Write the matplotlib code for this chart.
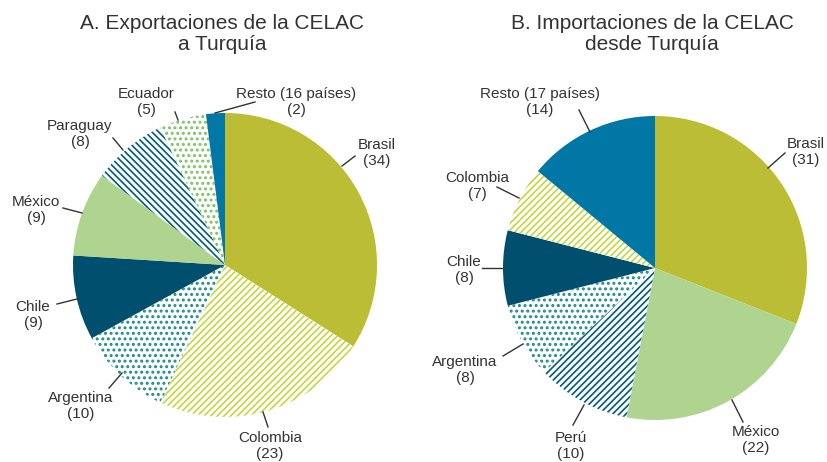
import matplotlib.pyplot as plt

# ============================================================
# DATA
# ============================================================

export_labels = [
    "Brasil", "Colombia", "Argentina", "Chile",
    "México", "Paraguay", "Ecuador", "Resto (16 países)",
]
export_values = [34, 23, 10, 9, 9, 8, 5, 2]

import_labels = [
    "Brasil", "México", "Perú", "Argentina",
    "Chile", "Colombia", "Resto (17 países)",
]
import_values = [31, 22, 10, 8, 8, 7, 14]

export_title = "A. Exportaciones de la CELAC\na Turquía"
import_title = "B. Importaciones de la CELAC\ndesde Turquía"

# ============================================================
# STYLE / LAYOUT (pixel units, image y measured from top)
# ============================================================

W, H = 827, 462
RADIUS = 152
TEXT_COLOR = "#333333"

# colour, hatch, hatch linewidth
STYLE = {
    "Brasil": ("#BBBD34", None, 0),
    "Colombia": ("#C3D73F", "/////", 1.2),
    "Argentina": ("#1B8B8B", "...", 1.4),
    "Chile": ("#004F6E", None, 0),
    "México": ("#AED48F", None, 0),
    "Paraguay": ("#005A7E", "\\\\\\\\\\", 1.2),
    "Perú": ("#005A7E", "/////", 1.2),
    "Ecuador": ("#7CC35E", "...", 1.4),
    "Resto": ("#0077A4", None, 0),
}

# label centre, leader start (pie edge), leader end
EXPORT_LAYOUT = {
    "Brasil": ((377, 153), (342, 166), (355, 156)),
    "Colombia": ((270, 446), (263, 412), (268, 427)),
    "Argentina": ((81, 406), (122, 373), (109, 388)),
    "Chile": ((33, 315), (77, 299), (57, 304)),
    "México": ((36, 210), (82, 213), (63, 208)),
    "Paraguay": ((80, 134), (123, 150), (113, 138)),
    "Ecuador": ((146, 102), (178, 120), (175, 112)),
    "Resto (16 países)": ((296, 102), (215, 113), (255, 102)),
}

IMPORT_LAYOUT = {
    "Brasil": ((806, 152), (768, 168), (785, 153)),
    "México": ((756, 440), (732, 400), (743, 422)),
    "Perú": ((571, 446), (584, 405), (573, 425)),
    "Argentina": ((465, 370), (523, 344), (503, 356)),
    "Chile": ((464, 270), (503, 268), (482, 268)),
    "Colombia": ((477, 186), (519, 198), (497, 187)),
    "Resto (17 países)": ((540, 102), (590, 132), (579, 110)),
}

plt.rcParams["font.family"] = ["Liberation Sans", "DejaVu Sans"]
plt.rcParams["hatch.linewidth"] = 1.2


def flip(y):
    return H - y


def draw_pie(ax, labels, values, center, layout, title, title_x):
    cx, cy = center
    wedges, _ = ax.pie(
        values,
        startangle=90,
        counterclock=False,
        radius=RADIUS,
        center=(cx, flip(cy)),
    )

    for wedge, label in zip(wedges, labels):
        colour, hatch, hatch_lw = STYLE[label.split(" ")[0]]
        if hatch:
            wedge.set_facecolor("white")
            wedge.set_edgecolor(colour)
            wedge.set_hatch(hatch)
            if hasattr(wedge, "set_hatch_linewidth"):
                wedge.set_hatch_linewidth(hatch_lw)
            else:
                wedge._hatch_linewidth = hatch_lw
        else:
            wedge.set_facecolor(colour)
            wedge.set_edgecolor(colour)
        wedge.set_linewidth(0)

    for label, value in zip(labels, values):
        (tx, ty), (x0, y0), (x1, y1) = layout[label]
        ax.plot(
            [x0, x1],
            [flip(y0), flip(y1)],
            color=TEXT_COLOR,
            linewidth=1.0,
        )
        ax.text(
            tx, flip(ty),
            f"{label}\n({value})",
            ha="center", va="center",
            fontsize=11,
            color=TEXT_COLOR,
            linespacing=1.2,
        )

    ax.text(
        title_x, flip(34),
        title,
        ha="center", va="center",
        fontsize=15,
        color=TEXT_COLOR,
        linespacing=1.15,
    )


fig = plt.figure(figsize=(W / 100, H / 100), dpi=100)
ax = fig.add_axes([0, 0, 1, 1])

draw_pie(ax, export_labels, export_values, (225, 265),
         EXPORT_LAYOUT, export_title, 222)
draw_pie(ax, import_labels, import_values, (655, 268),
         IMPORT_LAYOUT, import_title, 652)

ax.set_xlim(0, W)
ax.set_ylim(0, H)
ax.set_aspect("equal")
ax.axis("off")

fig.savefig("out.png", dpi=100)
